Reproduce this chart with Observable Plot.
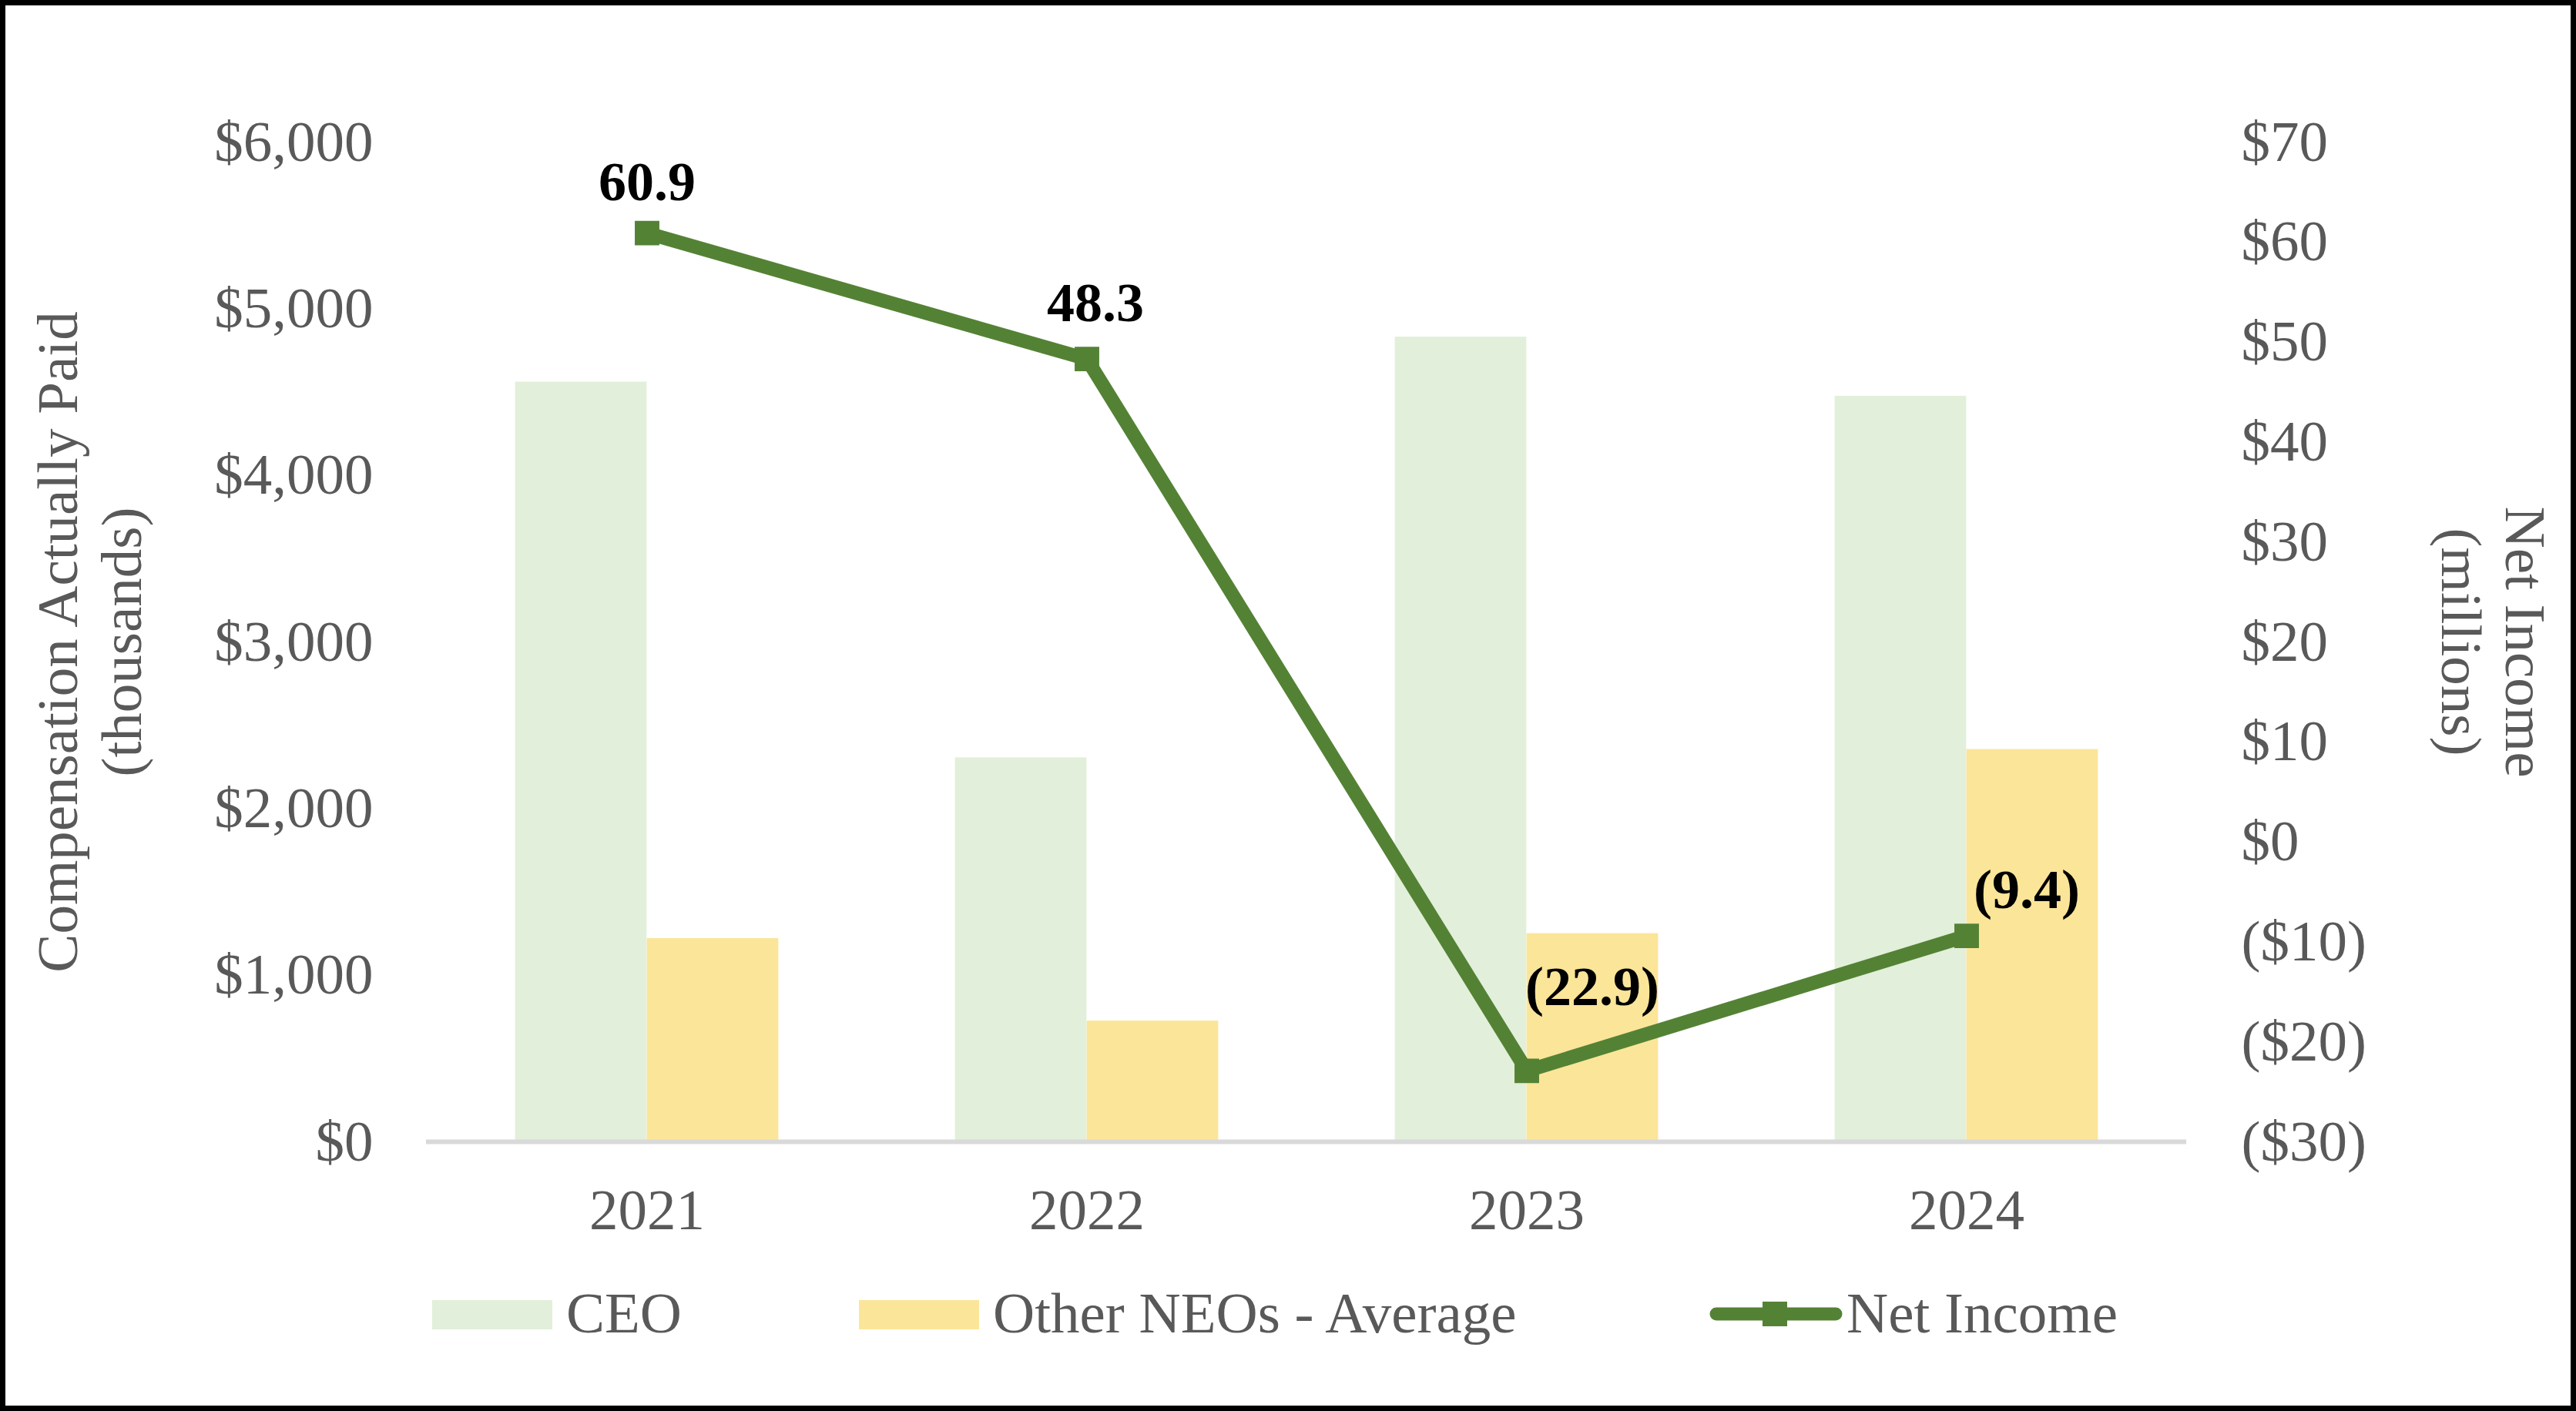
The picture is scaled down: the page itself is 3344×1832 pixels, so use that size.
<!DOCTYPE html>
<html>
<head>
<meta charset="utf-8">
<script src="https://cdn.jsdelivr.net/npm/d3@7"></script>
<script src="https://cdn.jsdelivr.net/npm/@observablehq/plot@0.6"></script>
<style>
  html, body { margin: 0; padding: 0; background: #fff; }
  #wrap { position: relative; width: 3344px; height: 1832px; overflow: hidden; background: #fff; }
  #chart, #legend { position: absolute; left: 0; top: 0; }
  #frame { position: absolute; left: 0; top: 0; width: 3344px; height: 1832px; box-sizing: border-box; border: 7px solid #000; pointer-events: none; }
</style>
</head>
<body>
<div id="wrap">
  <div id="chart"></div>
  <svg id="legend" width="3344" height="1832"></svg>
  <div id="frame"></div>
</div>
<script>
// ---- data ----
const years = ["2021", "2022", "2023", "2024"];
const ceoCAP = [4560, 2305, 4830, 4475];          // thousands
const neoCAP = [1220, 725, 1250, 2355];           // thousands
const netIncome = [60.9, 48.3, -22.9, -9.4];      // millions
const leftTicks = [0, 1000, 2000, 3000, 4000, 5000, 6000];
const rightTicks = [-30, -20, -10, 0, 10, 20, 30, 40, 50, 60, 70];
const seriesNames = ["CEO", "Other NEOs - Average", "Net Income"];

// ---- styles ----
const FONT = '"Liberation Serif", "Times New Roman", Times, serif';
const GRAY = "#595959";
const CEO_FILL = "#E2EFDA";
const NEO_FILL = "#FBE599";
const LINE = "#548235";

const W = 3344, H = 1832;
const mL = 553, mR = 506, mT = 184, mB = 350;
const band = (W - mL - mR) / years.length;
const half = band / 2;
const barW = 171;

// map net income (right axis, -30..70) onto left scale (0..6000)
const niToY = v => (v + 30) * 60;
const yToNi = y => Math.round(y / 60 - 30);

const rows = years.map((year, i) => ({
  year, ceo: ceoCAP[i], neo: neoCAP[i], ni: netIncome[i]
}));

const fmtLeft = d => "$" + d3.format(",")(d);
const fmtRight = v => v < 0 ? `($${Math.abs(v)})` : `$${v}`;
const fmtLabel = v => v < 0 ? `(${Math.abs(v).toFixed(1)})` : v.toFixed(1);

const labelOffsets = [[0, -66], [11, -72], [85, -108], [78, -59]];

const labelMarks = rows.map((r, i) => Plot.text([r], {
  x: "year",
  y: d => niToY(d.ni),
  text: d => fmtLabel(d.ni),
  dx: labelOffsets[i][0],
  dy: labelOffsets[i][1],
  fill: "#000",
  fontWeight: "bold",
  fontSize: 72
}));

const chart = Plot.plot({
  width: W,
  height: H,
  marginLeft: mL,
  marginRight: mR,
  marginTop: mT,
  marginBottom: mB,
  style: { fontFamily: FONT, fontSize: "75px", color: GRAY, background: "transparent", overflow: "visible" },
  x: { type: "band", domain: years, padding: 0 },
  y: { domain: [0, 6000] },
  marks: [
    Plot.barY(rows, { x: "year", y: "ceo", fill: CEO_FILL, insetLeft: half - barW, insetRight: half }),
    Plot.barY(rows, { x: "year", y: "neo", fill: NEO_FILL, insetLeft: half, insetRight: half - barW }),
    Plot.ruleY([0], { stroke: "#D9D9D9", strokeWidth: 6 }),
    Plot.axisY({ ticks: leftTicks, tickFormat: fmtLeft, tickSize: 0, tickPadding: 69, label: null, fontSize: 75 }),
    Plot.axisY({ anchor: "right", ticks: rightTicks.map(niToY), tickFormat: d => fmtRight(yToNi(d)), tickSize: 0, tickPadding: 71, label: null, fontSize: 75 }),
    Plot.axisX({ tickSize: 0, tickPadding: 60, label: null, fontSize: 75 }),
    Plot.line(rows, { x: "year", y: d => niToY(d.ni), stroke: LINE, strokeWidth: 18, strokeLinejoin: "round" }),
    Plot.dot(rows, { x: "year", y: d => niToY(d.ni), symbol: "square", r: 18, fill: LINE, stroke: null }),
    ...labelMarks,
    Plot.text(["Compensation Actually Paid\n(thousands)"], {
      frameAnchor: "left", dx: 114.5 - mL, rotate: -90, text: d => d,
      fill: GRAY, fontSize: 75, lineHeight: 1.107, textAnchor: "middle"
    }),
    Plot.text(["Net Income\n(millions)"], {
      frameAnchor: "right", dx: 3237.5 - (W - mR), rotate: 90, text: d => d,
      fill: GRAY, fontSize: 75, lineHeight: 1.107, textAnchor: "middle"
    })
  ]
});
document.getElementById("chart").appendChild(chart);

// ---- legend ----
const leg = d3.select("#legend").style("font-family", FONT);
const legY = 1730;
leg.append("rect").attr("x", 561).attr("y", 1688).attr("width", 156).attr("height", 38).attr("fill", CEO_FILL);
leg.append("text").attr("x", 735).attr("y", legY).attr("font-size", 75).attr("fill", GRAY).text(seriesNames[0]);
leg.append("rect").attr("x", 1115).attr("y", 1688).attr("width", 156).attr("height", 38).attr("fill", NEO_FILL);
leg.append("text").attr("x", 1289).attr("y", legY).attr("font-size", 75).attr("fill", GRAY).text(seriesNames[1]);
leg.append("line").attr("x1", 2228).attr("x2", 2383).attr("y1", 1706).attr("y2", 1706)
  .attr("stroke", LINE).attr("stroke-width", 17).attr("stroke-linecap", "round");
leg.append("rect").attr("x", 2288).attr("y", 1690).attr("width", 32).attr("height", 32).attr("fill", LINE);
leg.append("text").attr("x", 2397).attr("y", legY).attr("font-size", 75).attr("fill", GRAY).text(seriesNames[2]);
</script>
</body>
</html>
